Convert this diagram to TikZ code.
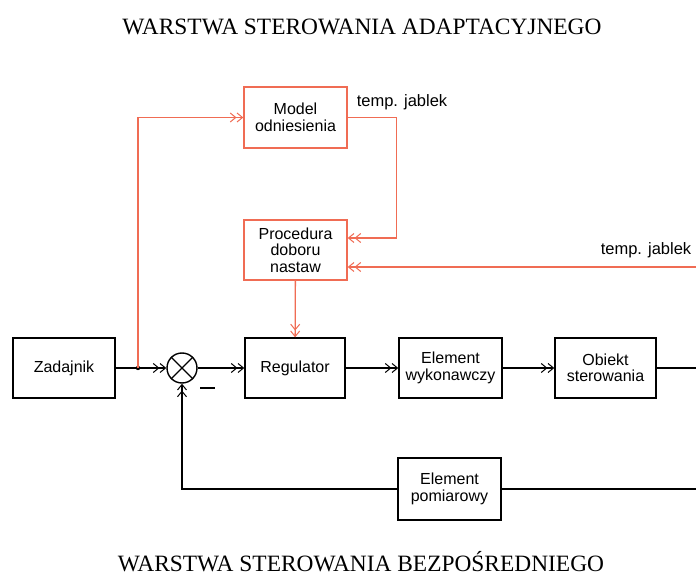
\documentclass[tikz,border=0pt]{standalone}
\usepackage{fontspec}
\setmainfont{Liberation Serif}
\newfontfamily\arialf{Liberation Sans}
\usetikzlibrary{arrows.meta}
\definecolor{rline}{RGB}{240,108,84}
\begin{document}
\begin{tikzpicture}[x=1pt,y=-1pt,
  box/.style={draw, line width=1.4pt, inner sep=0pt, align=center,
    font=\arialf\fontsize{16}{16.5}\selectfont},
  rbox/.style={box, draw=rline},
  wire/.style={line width=1.3pt},
  rwire/.style={line width=1.3pt, draw=rline},
  dbl/.style={-{Straight Barb[length=5.5pt,width=9pt,line width=1pt]Straight Barb[length=5.5pt,width=9pt,line width=1pt]}},
  lbl/.style={font=\arialf\fontsize{16.5}{16.5}\selectfont, inner sep=0pt},
  ttl/.style={font=\fontsize{23.4}{24}\selectfont, inner sep=0pt, anchor=base}]
\useasboundingbox (0,0) rectangle (696,577);
\fill[white] (0,0) rectangle (696,577);

% titles
\node[ttl] (title1) at (362,35) {WARSTWA STEROWANIA ADAPTACYJNEGO};
\node[ttl] (title2) at (361,571) {WARSTWA STEROWANIA BEZPOŚREDNIEGO};

% adaptive layer
\node[rbox, minimum width=103pt, minimum height=61pt] (model) at (295.5,117.5) {Model\\odniesienia};
\node[rbox, minimum width=103pt, minimum height=60pt] (proc) at (295.5,250) {Procedura\\doboru\\nastaw};
\node[lbl] (t1) at (402,102) {temp. jablek};
\node[lbl] (t2) at (646,250) {temp. jablek};

% main loop
\node[box, minimum width=102pt, minimum height=60pt] (zad) at (64,368) {Zadajnik};
\coordinate (j) at (138,368);
\node[draw, circle, line width=1.4pt, minimum size=30pt, inner sep=0pt] (sum) at (182,368) {};
\node[box, minimum width=100pt, minimum height=60pt] (reg) at (295,368) {Regulator};
\node[box, minimum width=103pt, minimum height=60pt] (ew) at (450.5,368) {Element\\wykonawczy};
\node[box, minimum width=101pt, minimum height=60pt] (obj) at (605.5,368) {Obiekt\\sterowania};
\node[box, minimum width=103pt, minimum height=62pt] (ep) at (449.5,489) {Element\\pomiarowy};
\coordinate (out) at (696,368);
\coordinate (fb) at (696,489);
\coordinate (in2) at (696,267);

% summing junction cross and minus sign
\draw[wire] (sum.north east) -- (sum.south west);
\draw[wire] (sum.north west) -- (sum.south east);
\draw[wire] (200,388) -- (215,388);

% black connectors
\draw[wire] (zad) -- (j);
\fill (j) circle (2.2pt);
\draw[wire, dbl] (j) -- (sum);
\draw[wire, dbl] (sum) -- (reg);
\draw[wire, dbl] (reg) -- (ew);
\draw[wire, dbl] (ew) -- (obj);
\draw[wire] (obj) -- (out);
\draw[wire] (fb) -- (ep);
\draw[wire, dbl] (ep.west) -| (sum.south);

% red connectors
\draw[rwire, dbl] (j) |- (model.west);
\draw[rwire, dbl] (model.east) -- ++(49,0) |- ([yshift=12pt]proc.east);
\draw[rwire, dbl] (in2) -- (in2 -| proc.east);
\draw[rwire, dbl] (proc) -- (reg);
\end{tikzpicture}
\end{document}
